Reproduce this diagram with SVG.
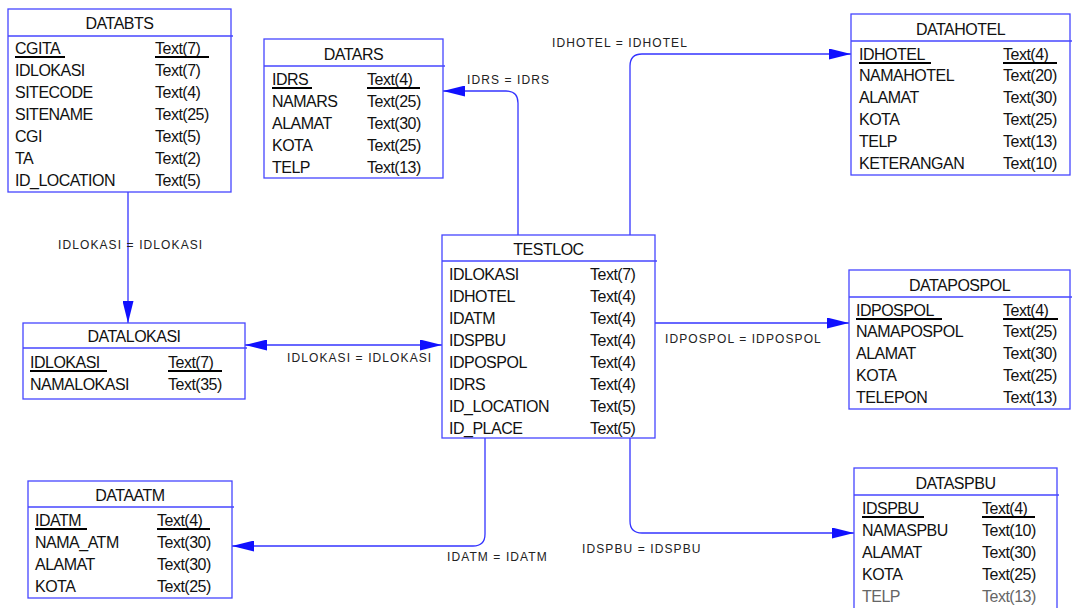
<svg xmlns="http://www.w3.org/2000/svg" width="1073" height="608" viewBox="0 0 1073 608">
<style>
.box{fill:#fff;stroke:#4646ff;stroke-width:1.3}
.hd{stroke:#4646ff;stroke-width:1.3}
.t{font-family:"Liberation Sans",Arial,sans-serif;font-size:16px;fill:#111;letter-spacing:-0.5px}
.ti{font-family:"Liberation Sans",Arial,sans-serif;font-size:16px;fill:#111;text-anchor:middle;letter-spacing:-0.5px}
.pk{stroke:#000;stroke-width:2}
.c{fill:none;stroke:#3434ff;stroke-width:1.3}
.lb{font-family:"Liberation Sans",Arial,sans-serif;font-size:12px;fill:#222;letter-spacing:1.1px}
</style>
<defs>
<marker id="arr" viewBox="0 0 22 11" refX="22" refY="5.5" markerWidth="22" markerHeight="11" markerUnits="userSpaceOnUse" orient="auto-start-reverse">
<path d="M0,0 L22,5.5 L0,11 z" fill="#1010ff"/>
</marker>
</defs>
<rect width="1073" height="608" fill="#fff"/>

<g id="connectors">
<path class="c" d="M128,192 V323" marker-end="url(#arr)"/>
<text class="lb" x="58" y="249">IDLOKASI = IDLOKASI</text>
<path class="c" d="M245,345 H442" marker-start="url(#arr)" marker-end="url(#arr)"/>
<text class="lb" x="287" y="362">IDLOKASI = IDLOKASI</text>
<path class="c" d="M655,323 H849" marker-end="url(#arr)"/>
<text class="lb" x="665" y="343">IDPOSPOL = IDPOSPOL</text>
<path class="c" d="M518,235 V103 Q518,91 506,91 H443" marker-end="url(#arr)"/>
<text class="lb" x="467" y="84">IDRS = IDRS</text>
<path class="c" d="M630,235 V66 Q630,54 642,54 H851" marker-end="url(#arr)"/>
<text class="lb" x="552" y="47">IDHOTEL = IDHOTEL</text>
<path class="c" d="M485,438 V534 Q485,546 473,546 H232" marker-end="url(#arr)"/>
<text class="lb" x="447" y="561">IDATM = IDATM</text>
<path class="c" d="M630,438 V521 Q630,533 642,533 H854" marker-end="url(#arr)"/>
<text class="lb" x="582" y="553">IDSPBU = IDSPBU</text>
</g>

<g id="DATABTS">
<rect class="box" x="8" y="9" width="223" height="183"/>
<line class="hd" x1="8" y1="36" x2="233" y2="36"/>
<text class="ti" x="119.5" y="28.5">DATABTS</text>
<text class="t" x="15" y="53.5">CGITA</text><text class="t" x="155" y="53.5">Text(7)</text>
<line class="pk" x1="15" y1="57" x2="65" y2="57"/><line class="pk" x1="155" y1="57" x2="209" y2="57"/>
<text class="t" x="15" y="75.5">IDLOKASI</text><text class="t" x="155" y="75.5">Text(7)</text>
<text class="t" x="15" y="97.5">SITECODE</text><text class="t" x="155" y="97.5">Text(4)</text>
<text class="t" x="15" y="119.5">SITENAME</text><text class="t" x="155" y="119.5">Text(25)</text>
<text class="t" x="15" y="141.5">CGI</text><text class="t" x="155" y="141.5">Text(5)</text>
<text class="t" x="15" y="163.5">TA</text><text class="t" x="155" y="163.5">Text(2)</text>
<text class="t" x="15" y="185.5">ID_LOCATION</text><text class="t" x="155" y="185.5">Text(5)</text>
</g>

<g id="DATARS">
<rect class="box" x="264" y="39" width="179" height="139"/>
<line class="hd" x1="264" y1="66" x2="445" y2="66"/>
<text class="ti" x="353.5" y="59.5">DATARS</text>
<text class="t" x="272" y="84.5">IDRS</text><text class="t" x="367" y="84.5">Text(4)</text>
<line class="pk" x1="272" y1="88" x2="312" y2="88"/><line class="pk" x1="367" y1="88" x2="420" y2="88"/>
<text class="t" x="272" y="106.5">NAMARS</text><text class="t" x="367" y="106.5">Text(25)</text>
<text class="t" x="272" y="128.5">ALAMAT</text><text class="t" x="367" y="128.5">Text(30)</text>
<text class="t" x="272" y="150.5">KOTA</text><text class="t" x="367" y="150.5">Text(25)</text>
<text class="t" x="272" y="172.5">TELP</text><text class="t" x="367" y="172.5">Text(13)</text>
</g>

<g id="DATAHOTEL">
<rect class="box" x="851" y="14" width="219" height="161"/>
<line class="hd" x1="851" y1="41" x2="1072" y2="41"/>
<text class="ti" x="960.5" y="34.5">DATAHOTEL</text>
<text class="t" x="859" y="59.5">IDHOTEL</text><text class="t" x="1003" y="59.5">Text(4)</text>
<line class="pk" x1="859" y1="63" x2="931" y2="63"/><line class="pk" x1="1003" y1="63" x2="1057" y2="63"/>
<text class="t" x="859" y="81">NAMAHOTEL</text><text class="t" x="1003" y="81">Text(20)</text>
<text class="t" x="859" y="103">ALAMAT</text><text class="t" x="1003" y="103">Text(30)</text>
<text class="t" x="859" y="124.5">KOTA</text><text class="t" x="1003" y="124.5">Text(25)</text>
<text class="t" x="859" y="146.5">TELP</text><text class="t" x="1003" y="146.5">Text(13)</text>
<text class="t" x="859" y="168.5">KETERANGAN</text><text class="t" x="1003" y="168.5">Text(10)</text>
</g>

<g id="TESTLOC">
<rect class="box" x="442" y="235" width="213" height="203"/>
<line class="hd" x1="442" y1="261" x2="657" y2="261"/>
<text class="ti" x="548.5" y="254.5">TESTLOC</text>
<text class="t" x="449" y="279.5">IDLOKASI</text><text class="t" x="590" y="279.5">Text(7)</text>
<text class="t" x="449" y="301.5">IDHOTEL</text><text class="t" x="590" y="301.5">Text(4)</text>
<text class="t" x="449" y="323.5">IDATM</text><text class="t" x="590" y="323.5">Text(4)</text>
<text class="t" x="449" y="345.5">IDSPBU</text><text class="t" x="590" y="345.5">Text(4)</text>
<text class="t" x="449" y="367.5">IDPOSPOL</text><text class="t" x="590" y="367.5">Text(4)</text>
<text class="t" x="449" y="389.5">IDRS</text><text class="t" x="590" y="389.5">Text(4)</text>
<text class="t" x="449" y="411.5">ID_LOCATION</text><text class="t" x="590" y="411.5">Text(5)</text>
<text class="t" x="449" y="433.5">ID_PLACE</text><text class="t" x="590" y="433.5">Text(5)</text>
</g>

<g id="DATALOKASI">
<rect class="box" x="23" y="323" width="222" height="76"/>
<line class="hd" x1="23" y1="348" x2="247" y2="348"/>
<text class="ti" x="134" y="341.5">DATALOKASI</text>
<text class="t" x="30" y="367.5">IDLOKASI</text><text class="t" x="168" y="367.5">Text(7)</text>
<line class="pk" x1="30" y1="371" x2="107" y2="371"/><line class="pk" x1="168" y1="371" x2="222" y2="371"/>
<text class="t" x="30" y="389.5">NAMALOKASI</text><text class="t" x="168" y="389.5">Text(35)</text>
</g>

<g id="DATAPOSPOL">
<rect class="box" x="849" y="270" width="221" height="139"/>
<line class="hd" x1="849" y1="297" x2="1072" y2="297"/>
<text class="ti" x="959.5" y="290.5">DATAPOSPOL</text>
<text class="t" x="856" y="315.5">IDPOSPOL</text><text class="t" x="1003" y="315.5">Text(4)</text>
<line class="pk" x1="856" y1="319" x2="942" y2="319"/><line class="pk" x1="1003" y1="319" x2="1058" y2="319"/>
<text class="t" x="856" y="337">NAMAPOSPOL</text><text class="t" x="1003" y="337">Text(25)</text>
<text class="t" x="856" y="358.5">ALAMAT</text><text class="t" x="1003" y="358.5">Text(30)</text>
<text class="t" x="856" y="380.5">KOTA</text><text class="t" x="1003" y="380.5">Text(25)</text>
<text class="t" x="856" y="402.5">TELEPON</text><text class="t" x="1003" y="402.5">Text(13)</text>
</g>

<g id="DATAATM">
<rect class="box" x="28" y="481" width="204" height="117"/>
<line class="hd" x1="28" y1="507" x2="234" y2="507"/>
<text class="ti" x="130" y="500.5">DATAATM</text>
<text class="t" x="35" y="525.5">IDATM</text><text class="t" x="157" y="525.5">Text(4)</text>
<line class="pk" x1="35" y1="529" x2="87" y2="529"/><line class="pk" x1="157" y1="529" x2="210" y2="529"/>
<text class="t" x="35" y="547.5">NAMA_ATM</text><text class="t" x="157" y="547.5">Text(30)</text>
<text class="t" x="35" y="569.5">ALAMAT</text><text class="t" x="157" y="569.5">Text(30)</text>
<text class="t" x="35" y="591.5">KOTA</text><text class="t" x="157" y="591.5">Text(25)</text>
</g>

<g id="DATASPBU">
<rect class="box" x="854" y="468" width="203" height="141"/>
<line class="hd" x1="854" y1="495" x2="1059" y2="495"/>
<text class="ti" x="955.5" y="488.5">DATASPBU</text>
<text class="t" x="862" y="513.5">IDSPBU</text><text class="t" x="982" y="513.5">Text(4)</text>
<line class="pk" x1="862" y1="517" x2="924" y2="517"/><line class="pk" x1="982" y1="517" x2="1035" y2="517"/>
<text class="t" x="862" y="535.5">NAMASPBU</text><text class="t" x="982" y="535.5">Text(10)</text>
<text class="t" x="862" y="557.5">ALAMAT</text><text class="t" x="982" y="557.5">Text(30)</text>
<text class="t" x="862" y="579.5">KOTA</text><text class="t" x="982" y="579.5">Text(25)</text>
<text class="t" x="862" y="601.5" style="fill:#666">TELP</text><text class="t" x="982" y="601.5" style="fill:#666">Text(13)</text>
</g>
</svg>
